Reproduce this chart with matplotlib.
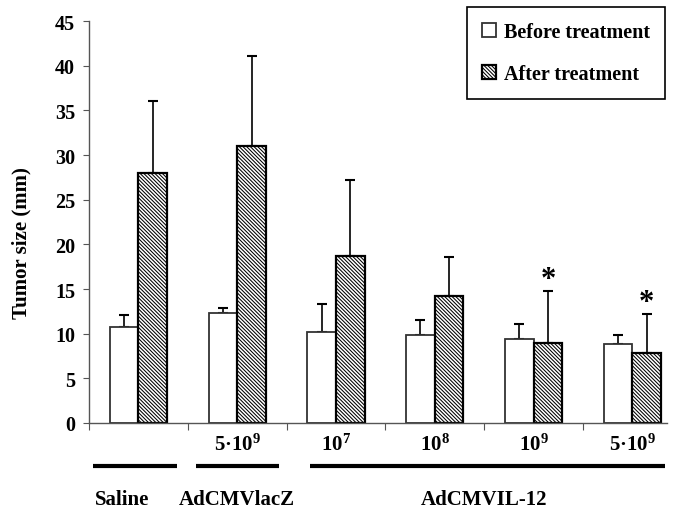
import numpy as np
import matplotlib
matplotlib.use('Agg')
import matplotlib.pyplot as plt
import matplotlib.transforms as mtransforms

plt.rcParams['font.family'] = ['Liberation Serif', 'DejaVu Serif']
plt.rcParams['font.weight'] = 'bold'
plt.rcParams['axes.labelweight'] = 'bold'
plt.rcParams['mathtext.fontset'] = 'custom'
plt.rcParams['mathtext.rm'] = 'Liberation Serif:bold'
plt.rcParams['mathtext.it'] = 'Liberation Serif:bold'
plt.rcParams['mathtext.bf'] = 'Liberation Serif:bold'
plt.rcParams['hatch.linewidth'] = 0.75

# data
doses = ['', '5·10$^{9}$', '10$^{7}$', '10$^{8}$', '10$^{9}$', '5·10$^{9}$']
before = [10.8, 12.3, 10.2, 9.9, 9.4, 8.85]
before_err = [1.3, 0.6, 3.1, 1.6, 1.7, 1.05]
after = [28.0, 31.05, 18.7, 14.2, 9.0, 7.8]
after_err = [8.1, 10.05, 8.5, 4.4, 5.8, 4.4]
significant = [False, False, False, False, True, True]

# treatment groups: label, first group index, last group index
treatments = [('Saline', 0, 0), ('AdCMVlacZ', 1, 1), ('AdCMVIL-12', 2, 5)]

x = np.arange(len(before))
w = 0.29

fig = plt.figure(figsize=(6.76, 5.10), dpi=100)
ax = fig.add_axes([89 / 676, 86 / 510, 578 / 676, 402 / 510])

ax.bar(x - w / 2, before, w, color='white', edgecolor='#333333', linewidth=1.3,
       label='Before treatment', zorder=2)
ax.bar(x + w / 2, after, w, color='white', edgecolor='black', linewidth=1.6,
       hatch='\\' * 9, label='After treatment', zorder=2)
ax.errorbar(x - w / 2, before, yerr=[np.zeros(len(x)), before_err], fmt='none',
            ecolor='black', elinewidth=1.2, capsize=3.6, capthick=1.5, zorder=1)
ax.errorbar(x + w / 2, after, yerr=[np.zeros(len(x)), after_err], fmt='none',
            ecolor='black', elinewidth=1.2, capsize=3.6, capthick=1.5, zorder=1)

for i in range(len(x)):
    if significant[i]:
        ax.text(x[i] + w / 2, after[i] + after_err[i] + 1.3, '*', ha='center',
                va='center', fontsize=22)

ax.set_ylim(0, 45)
ax.set_xlim(-0.49, 5.35)
ax.set_yticks(np.arange(0, 46, 5))
ax.set_xticks(np.arange(len(x)) - 0.5)
ax.set_xticklabels([])
ax.tick_params(axis='y', labelsize=14.5, length=4, width=0.8, color='#555555', pad=6)
ax.tick_params(axis='x', length=5, width=0.8, color='#555555')
for s in ['top', 'right']:
    ax.spines[s].set_visible(False)
for s in ['left', 'bottom']:
    ax.spines[s].set_color('#555555')
    ax.spines[s].set_linewidth(1.0)
ax.set_ylabel('Tumor size (mm)', fontsize=15)
ax.yaxis.set_label_coords(-0.10, 0.45)

trans = mtransforms.blended_transform_factory(ax.transData, ax.transAxes)
for i, d in enumerate(doses):
    ax.text(i, -0.052, d, transform=trans, ha='center', va='center', fontsize=15)

line_ext = {'Saline': (-0.46, 0.39), 'AdCMVlacZ': (0.58, 1.42), 'AdCMVIL-12': (1.74, 5.33)}
for name, a, b in treatments:
    x0, x1 = line_ext[name]
    ax.plot([x0, x1], [-0.107, -0.107], transform=trans, color='black', lw=3,
            clip_on=False, solid_capstyle='butt')
    xc = (a + b) / 2
    if name == 'Saline':
        xc = -0.16
    ax.text(xc, -0.19, name, transform=trans, ha='center', va='center', fontsize=15)

leg = ax.legend(loc='upper right', bbox_to_anchor=(665 / 676, 502 / 510),
                bbox_transform=fig.transFigure, fancybox=False, framealpha=1,
                edgecolor='black', fontsize=14.5, handlelength=0.7, handleheight=0.7,
                handletextpad=0.4, labelspacing=1.1, borderpad=0.75, borderaxespad=0)
leg.get_frame().set_linewidth(1.2)

fig.savefig('out.png', dpi=100)
